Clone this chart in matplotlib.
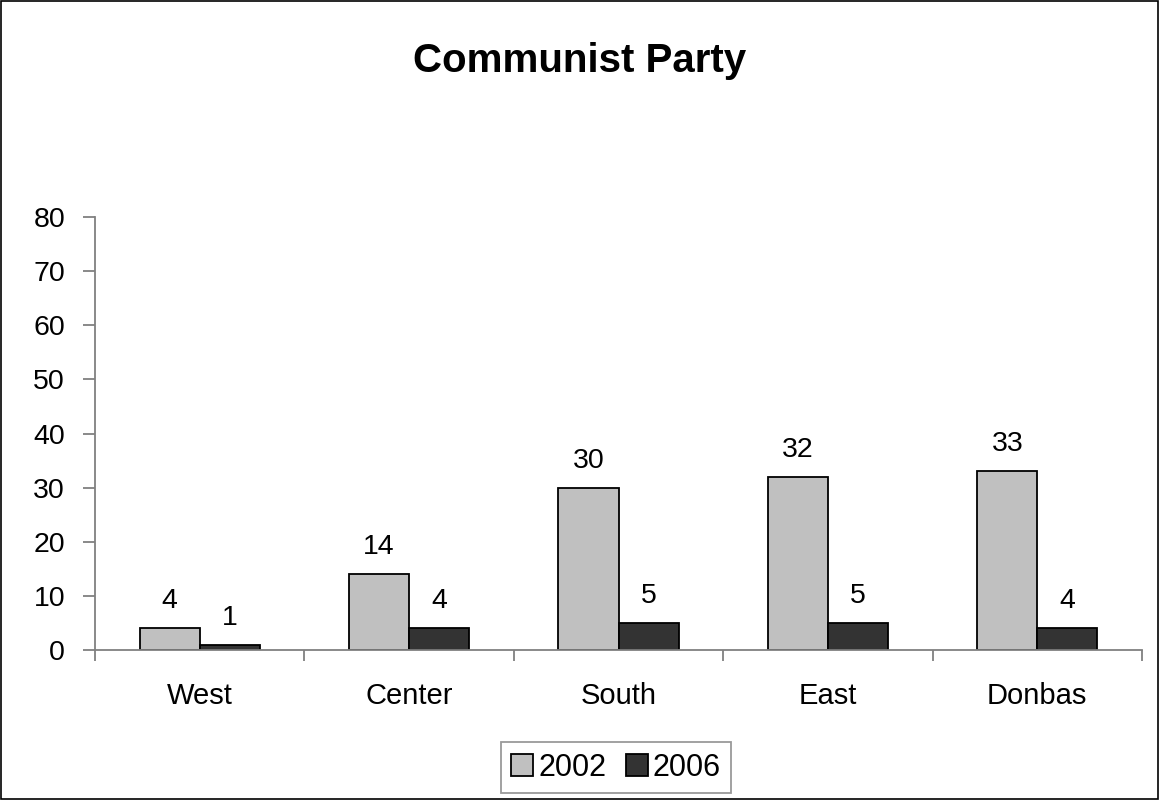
import matplotlib
matplotlib.use("Agg")
import matplotlib.pyplot as plt
from matplotlib.patches import Rectangle
import numpy as np

plt.rcParams['font.family'] = ['Liberation Sans', 'DejaVu Sans']

categories = ["West", "Center", "South", "East", "Donbas"]
series_names = ["2002", "2006"]
values_2002 = [4, 14, 30, 32, 33]
values_2006 = [1, 4, 5, 5, 4]
y_ticks = [0, 10, 20, 30, 40, 50, 60, 70, 80]

FS = 20.5

fig = plt.figure(figsize=(11.6, 8), dpi=100)
ax = fig.add_axes([95/1160, 1-650/800, (1142-95)/1160, (650-217)/800])

x = np.arange(len(categories))
w = 0.2866
b1 = ax.bar(x - w/2, values_2002, w, color="#C0C0C0", edgecolor="black", linewidth=1.3, label=series_names[0])
b2 = ax.bar(x + w/2, values_2006, w, color="#333333", edgecolor="black", linewidth=1.3, label=series_names[1])

for rects, vals in ((b1, values_2002), (b2, values_2006)):
    for r, v in zip(rects, vals):
        ax.annotate(str(v), (r.get_x() + r.get_width()/2, v), xytext=(0, 10),
                    textcoords="offset points", ha="center", va="bottom", fontsize=FS)

ax.set_xlim(-0.5, len(categories) - 0.5)
ax.set_ylim(0, 80)
ax.set_yticks(y_ticks)
ax.set_yticklabels([str(t) for t in y_ticks], fontsize=FS)
ax.set_xticks(x)
ax.set_xticklabels(categories, fontsize=FS + 0.5)
ax.tick_params(axis='x', length=0, pad=23)
ax.set_xticks(np.arange(-0.5, len(categories)), minor=True)
ax.tick_params(axis='x', which='minor', length=8, color="#808080", width=1.3, direction='out')
ax.tick_params(axis='y', length=8.5, color="#808080", width=1.3, direction='out', pad=13)
for s in ("top", "right"):
    ax.spines[s].set_visible(False)
for s in ("left", "bottom"):
    ax.spines[s].set_color("#808080")
    ax.spines[s].set_linewidth(1.3)

fig.text(0.5, 1-72/800, "Communist Party", ha="center", va="baseline", fontsize=29, fontweight="bold")

leg = fig.legend(handles=[b1, b2], labels=series_names, loc="center", bbox_to_anchor=(616/1160, 1-767.5/800),
                 ncol=2, fontsize=22, frameon=True, fancybox=False, handlelength=0.72, handleheight=0.72,
                 handletextpad=0.15, columnspacing=0.65, borderpad=0.35, borderaxespad=0)
leg.get_frame().set_edgecolor("#808080")
leg.get_frame().set_linewidth(1.3)

fig.patches.append(Rectangle((0.0008, 0.001), 0.9975, 0.998, transform=fig.transFigure,
                             fill=False, edgecolor="black", linewidth=1.2))

fig.savefig("out.png", dpi=100)
